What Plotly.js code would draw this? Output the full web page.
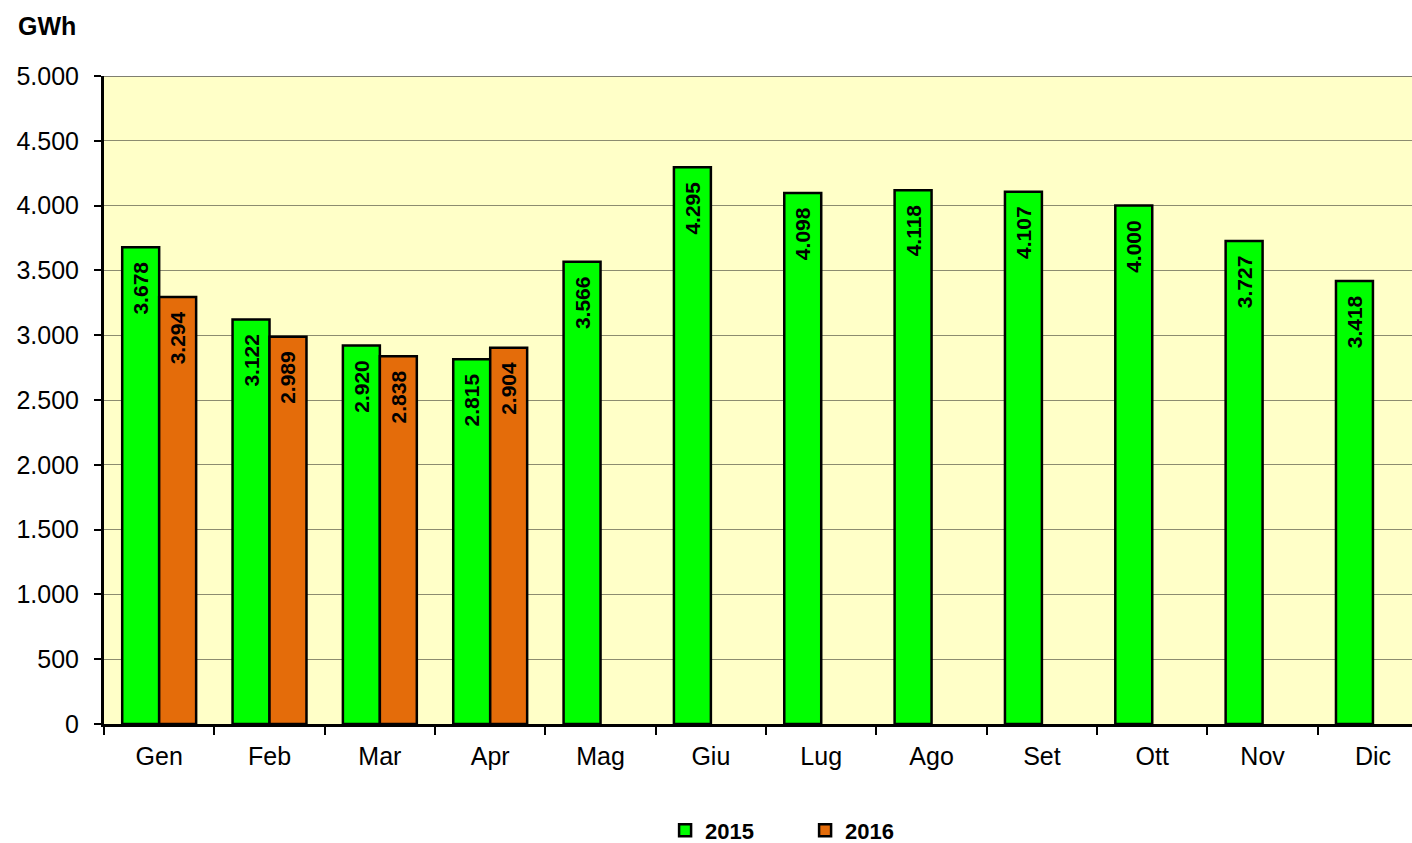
<!DOCTYPE html>
<html><head><meta charset="utf-8">
<script src="https://cdn.plot.ly/plotly-3.0.1.min.js"></script>
<style>body{margin:0;background:#fff}#c{width:1412px;height:843px}</style>
</head><body><div id="c"></div>
<script>
const months = ["Gen","Feb","Mar","Apr","Mag","Giu","Lug","Ago","Set","Ott","Nov","Dic"];
const v2015 = [3678,3122,2920,2815,3566,4295,4098,4118,4107,4000,3727,3418];
const v2016 = [3294,2989,2838,2904];
const yTicks = [0,500,1000,1500,2000,2500,3000,3500,4000,4500,5000];

const common = {
  type:'bar', texttemplate:'%{y:,d}\u00a0\u00a0', textposition:'inside', insidetextanchor:'end',
  textangle:-90, textfont:{family:'Liberation Sans, Arial', size:21, color:'#000', weight:'bold'},
  cliponaxis:false
};
const data = [
  Object.assign({x:months, y:v2015, name:'2015', marker:{color:'#00FF00', line:{color:'#000', width:2.5}}}, common),
  Object.assign({x:months.slice(0,4), y:v2016, name:'2016', marker:{color:'#E46C0A', line:{color:'#000', width:2.5}}}, common)
];
const layout = {
  width:1412, height:843, separators:',.',
  margin:{l:104, r:0, t:76, b:119},
  paper_bgcolor:'#fff', plot_bgcolor:'#FFFFC8',
  barmode:'group', bargap:0.33, bargroupgap:0,
  font:{family:'Liberation Sans, Arial', size:25, color:'#000'},
  xaxis:{type:'category', range:[-0.5, 11.354], showline:true, linecolor:'#000', linewidth:3,
    ticks:'outside', tickson:'boundaries', ticklen:8, tickwidth:2, tickcolor:'#000',
    ticklabelstandoff:8, showgrid:false, tickfont:{size:25}, fixedrange:true, automargin:false},
  yaxis:{range:[0,5000], tickvals:yTicks, tickformat:',d', showline:true, linecolor:'#000', linewidth:3,
    ticks:'outside', ticklen:7, tickwidth:2, tickcolor:'#000', ticklabelstandoff:10,
    gridcolor:'#8C8C70', gridwidth:1, zeroline:false, tickfont:{size:25}, fixedrange:true, automargin:false},
  showlegend:true,
  legend:{orientation:'h', x:0.536, xanchor:'center', yref:'container', y:0.015, yanchor:'middle',
    font:{size:22, weight:'bold'}, itemwidth:30, traceorder:'normal', entrywidth:95},
  annotations:[{text:'<b>GWh</b>', xref:'paper', yref:'paper', x:-0.067, y:1.077, xanchor:'left', yanchor:'middle',
    showarrow:false, font:{size:25}}],
  shapes:[{type:'line', xref:'paper', yref:'y', x0:0, x1:1, y0:5000, y1:5000, line:{color:'#555', width:1.5}}]
};
Plotly.newPlot('c', data, layout, {staticPlot:true});
</script></body></html>
